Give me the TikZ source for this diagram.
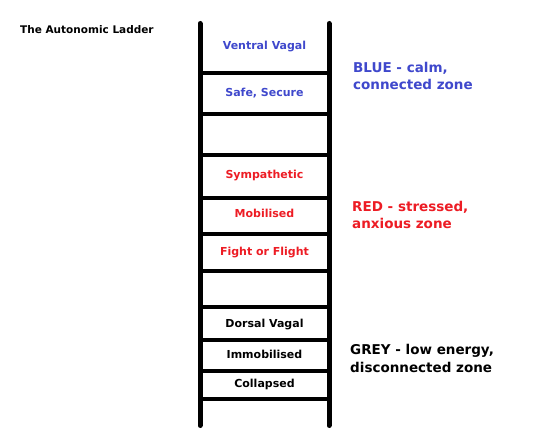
\documentclass[tikz,border=0pt]{standalone}
\usepackage{fontspec}
\setmainfont{DejaVu Sans}
\definecolor{calmblue}{HTML}{3F48CC}
\definecolor{stressred}{HTML}{ED1C24}
\begin{document}
\begin{tikzpicture}[x=1pt,y=-1pt,
  rail/.style={line width=5pt, line cap=round},
  rung/.style={line width=4.5pt},
  lbl/.style={font=\bfseries\fontsize{11}{13}\selectfont, anchor=base, inner sep=0pt},
  zone/.style={font=\bfseries\fontsize{13.5}{17.5}\selectfont, anchor=base west, inner sep=0pt, align=left},
  title/.style={font=\bfseries\fontsize{10.5}{12}\selectfont, anchor=base west, inner sep=0pt}]
\useasboundingbox (0,0) rectangle (557,446);
\fill[white] (0,0) rectangle (557,446);
% rails
\draw[rail] (200,23.5) -- (200,425.5);
\draw[rail] (329,23.5) -- (329,425.5);
% rungs
\foreach \y in {73,114,155,198,234,271,307,340,371,399}
  \draw[rung] (200,\y) -- (329,\y);
% title
\node[title] (t) at (20,34) {The Autonomic Ladder};
% ladder labels
\node[lbl, text=calmblue] (vv) at (264.5,50) {Ventral Vagal};
\node[lbl, text=calmblue] (ss) at (264.5,97) {Safe, Secure};
\node[lbl, text=stressred] (sy) at (264.5,179) {Sympathetic};
\node[lbl, text=stressred] (mo) at (264.5,218) {Mobilised};
\node[lbl, text=stressred] (ff) at (264.5,256) {Fight or Flight};
\node[lbl] (dv) at (264.5,327) {Dorsal Vagal};
\node[lbl] (im) at (264.5,359) {Immobilised};
\node[lbl] (co) at (264.5,388) {Collapsed};
% zone labels (base = last line)
\node[zone, text=calmblue] (bz) at (353,90) {BLUE - calm,\\connected zone};
\node[zone, text=stressred] (rz) at (352,229) {RED - stressed,\\anxious zone};
\node[zone] (gz) at (350,372) {GREY - low energy,\\disconnected zone};
\end{tikzpicture}
\end{document}
